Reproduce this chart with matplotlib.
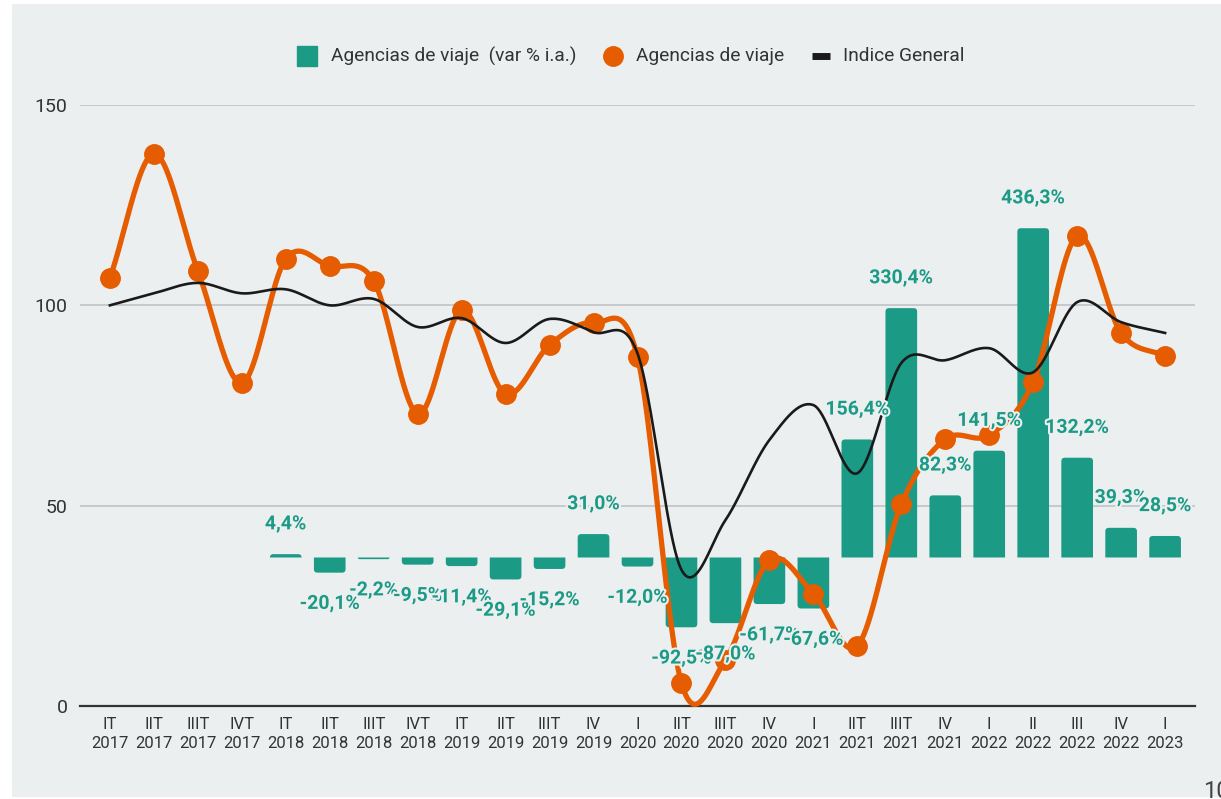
import numpy as np
import matplotlib
matplotlib.use("Agg")
import matplotlib.pyplot as plt
from matplotlib.lines import Line2D
from matplotlib.patches import Rectangle, PathPatch
from matplotlib.path import Path
import matplotlib.patheffects as pe

# ---------------- data ----------------
quarters = ["IT", "IIT", "IIIT", "IVT", "IT", "IIT", "IIIT", "IVT", "IT", "IIT", "IIIT", "IV",
            "I", "IIT", "IIIT", "IV", "I", "IIT", "IIIT", "IV", "I", "II", "III", "IV", "I"]
years = ["2017", "2017", "2017", "2017", "2018", "2018", "2018", "2018", "2019", "2019", "2019", "2019",
         "2020", "2020", "2020", "2020", "2021", "2021", "2021", "2021", "2022", "2022", "2022", "2022", "2023"]

agencias = [106.8, 137.8, 108.6, 80.6, 111.6, 109.8, 106.1, 72.9, 98.8, 77.9, 90.1, 95.6,
            87.1, 5.7, 11.5, 36.4, 28.0, 15.0, 50.4, 66.6, 67.6, 80.9, 117.3, 93.1, 87.3]
indice_general = [100.0, 103.0, 105.6, 103.0, 104.0, 100.0, 101.6, 94.6, 96.8, 90.6, 96.6, 93.3,
                  88.0, 34.0, 46.4, 66.4, 75.1, 58.1, 85.6, 86.3, 89.3, 83.3, 100.8, 95.8, 93.1]
var_ia = [None, None, None, None, 4.4, -20.1, -2.2, -9.5, -11.4, -29.1, -15.2, 31.0,
          -12.0, -92.5, -87.0, -61.7, -67.6, 156.4, 330.4, 82.3, 141.5, 436.3, 132.2, 39.3, 28.5]
var_labels = [None, None, None, None, "4,4%", "-20,1%", "-2,2%", "-9,5%", "-11,4%", "-29,1%", "-15,2%", "31,0%",
              "-12,0%", "-92,5%", "-87,0%", "-61,7%", "-67,6%", "156,4%", "330,4%", "82,3%", "141,5%",
              "436,3%", "132,2%", "39,3%", "28,5%"]
yticks = [0, 50, 100, 150]
legend_labels = ["Agencias de viaje  (var % i.a.)", "Agencias de viaje", "Indice General"]

# ---------------- style ----------------
BG = "#eceff0"
TEAL = "#1b9a86"
ORANGE = "#e65c00"
BLACK = "#1a1a1a"
GRID = "#c3c7c9"
TXT = "#333333"
plt.rcParams["font.family"] = ["Roboto", "DejaVu Sans"]

W, H = 1221, 799
fig = plt.figure(figsize=(W / 100, H / 100), dpi=100, facecolor="white")
fig.patches.append(Rectangle((12 / W, 1 - 797 / H), 1, (797 - 4) / H, transform=fig.transFigure,
                             facecolor=BG, edgecolor="none", zorder=-10))

def px_box(x0, y0, x1, y1):
    return [x0 / W, 1 - y1 / H, (x1 - x0) / W, (y1 - y0) / H]

ax = fig.add_axes(px_box(80, 105, 1195, 706))
ax2 = ax.twinx()
ax.set_zorder(ax2.get_zorder() + 1)
ax.patch.set_visible(False)
ax2.patch.set_visible(False)

n = len(quarters)
x = np.arange(n)
XL = (-0.68, n - 1 + 0.68)
Y2 = (-196.8, 599.6)
ax.set_xlim(*XL)
ax.set_ylim(0, 150)
ax2.set_ylim(*Y2)

# gridlines (drawn on bar axis, under bars)
for v in yticks[1:]:
    ax2.plot(list(XL), [v, v], transform=ax.transData, color=GRID, lw=1.3, zorder=0)

# bars: geometry from ax2.bar, redrawn as one path with rounded far corners
bx = [i for i in range(n) if var_ia[i] is not None]
bv = [var_ia[i] for i in bx]
bars = ax2.bar(bx, bv, width=0.72, color=TEAL, zorder=2, linewidth=0)
px_per_x = 1115 / (XL[1] - XL[0])
px_per_y2 = 601 / (Y2[1] - Y2[0])
RPX = 3.5
for r in list(bars):
    x0, b, w, h = r.get_x(), r.get_y(), r.get_width(), r.get_height()
    x1 = x0 + w
    e = b + h
    s = 1 if h >= 0 else -1
    hpx = abs(h) * px_per_y2
    rp = min(RPX, hpx)
    rx = rp / px_per_x
    ry = rp / px_per_y2
    verts = [(x0, b), (x0, e - s * ry), (x0, e), (x0 + rx, e), (x1 - rx, e), (x1, e),
             (x1, e - s * ry), (x1, b), (x0, b)]
    codes = [Path.MOVETO, Path.LINETO, Path.CURVE3, Path.CURVE3, Path.LINETO, Path.CURVE3,
             Path.CURVE3, Path.LINETO, Path.CLOSEPOLY]
    ax2.add_patch(PathPatch(Path(verts, codes), facecolor=TEAL, edgecolor="none", lw=0, zorder=2))
    r.remove()

# zero baseline
ax.axhline(0, color=TXT, lw=1.6, zorder=1, clip_on=False)

def catmull(xs, ys, k=40):
    xs = np.asarray(xs, float); ys = np.asarray(ys, float)
    m = np.zeros_like(ys)
    m[1:-1] = (ys[2:] - ys[:-2]) / 2.0
    m[0] = ys[1] - ys[0]
    m[-1] = ys[-1] - ys[-2]
    ox, oy = [], []
    for i in range(len(xs) - 1):
        t = np.linspace(0, 1, k, endpoint=False)
        h00 = 2 * t**3 - 3 * t**2 + 1
        h10 = t**3 - 2 * t**2 + t
        h01 = -2 * t**3 + 3 * t**2
        h11 = t**3 - t**2
        oy.append(h00 * ys[i] + h10 * m[i] + h01 * ys[i + 1] + h11 * m[i + 1])
        ox.append(xs[i] + t * (xs[i + 1] - xs[i]))
    ox.append([xs[-1]]); oy.append([ys[-1]])
    return np.concatenate(ox), np.concatenate(oy)

sx, sy = catmull(x, agencias)
ax.plot(sx, sy, color=ORANGE, lw=3.8, zorder=3, clip_on=False, solid_capstyle="round")
ax.plot(x, agencias, "o", color=ORANGE, ms=14, zorder=3, clip_on=False)

gx, gy = catmull(x, indice_general)
ax.plot(gx, gy, color=BLACK, lw=1.9, zorder=4, clip_on=False)

# bar labels
for i in bx:
    v = var_ia[i]
    off = 21.5 if v >= 0 else -22.5
    ax.annotate(var_labels[i], xy=(i, v), xycoords=ax2.transData, xytext=(0, off),
                textcoords="offset points", ha="center", va="center", fontsize=14,
                fontweight="bold", color=TEAL, zorder=6,
                path_effects=[pe.withStroke(linewidth=3, foreground=BG)])

# axes styling
for a in (ax, ax2):
    for s_ in a.spines.values():
        s_.set_visible(False)
ax2.set_yticks([])
ax.set_yticks(yticks)
ax.set_yticklabels([str(v) for v in yticks], fontsize=14, color=TXT)
ax.set_xticks(x)
ax.set_xticklabels([f"{q}\n{y}" for q, y in zip(quarters, years)], fontsize=12, color=TXT,
                   linespacing=1.3)
ax.tick_params(axis="both", length=0)
ax.tick_params(axis="x", pad=8)
ax.tick_params(axis="y", pad=9)

# legend (manual)
ly = 1 - 56 / H
fig.add_artist(Line2D([307 / W], [ly], marker="s", ms=14, color=TEAL, lw=0, transform=fig.transFigure))
fig.text(331 / W, ly, legend_labels[0], fontsize=13.8, color=TXT, va="center", ha="left")
fig.add_artist(Line2D([613 / W], [ly], marker="o", ms=14, color=ORANGE, lw=0, transform=fig.transFigure))
fig.text(636 / W, ly, legend_labels[1], fontsize=13.8, color=TXT, va="center", ha="left")
fig.add_artist(Line2D([812 / W, 830 / W], [ly, ly], color=BLACK, lw=5, transform=fig.transFigure,
                      solid_capstyle="butt"))
fig.text(843 / W, ly, legend_labels[2], fontsize=13.8, color=TXT, va="center", ha="left")

# page number partly visible at bottom right, as in the source
fig.text(1203 / W, 1 - 780 / H, "10", fontsize=17, color="#444444", va="top", ha="left")

fig.savefig("out.png", dpi=100, facecolor="white")
